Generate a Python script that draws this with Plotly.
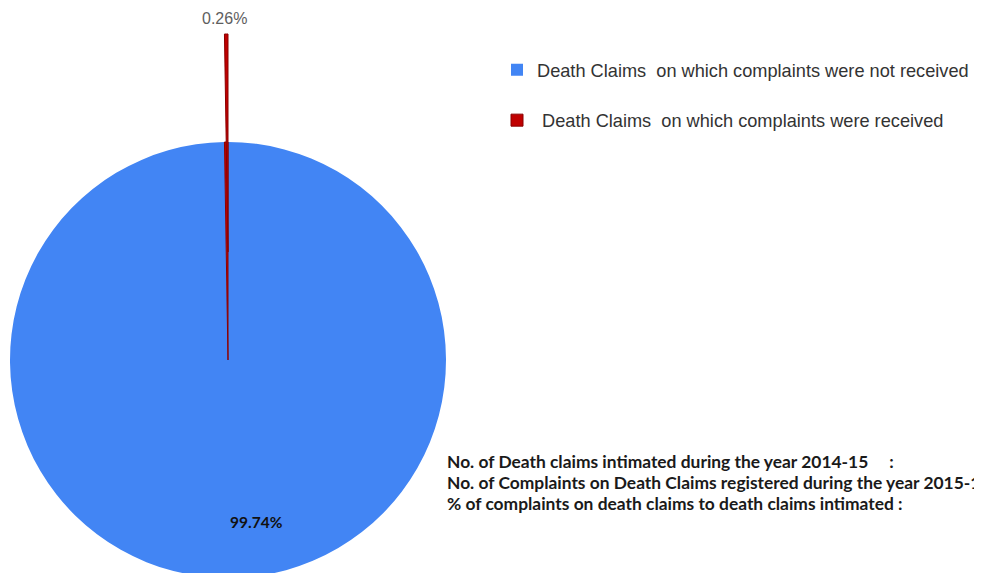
import plotly.graph_objects as go

# ---- data ----
labels = ["Death Claims\u00a0\u00a0on which complaints were not received",
          "\u00a0Death Claims\u00a0\u00a0on which complaints were received"]
values = [99.74, 0.26]
colors = ["#4285F4", "#C00000"]
info_lines = ["No. of Death claims intimated during the year 2014-15\u00a0\u00a0\u00a0\u00a0\u00a0:",
              "No. of Complaints on Death Claims registered during the year 2015-16",
              "% of complaints on death claims to death claims intimated :"]

# ---- layout geometry (figure px; page body adds an 8px offset) ----
W, H = 982, 573
cx = 220.0
r = 218.0
main_cy = 352.0
pulled_cy = 244.0

def dom(cy):
    return dict(x=[max(0, (cx - r) / W), (cx + r) / W],
                y=[max(0, 1 - (cy + r) / H), min(1, 1 - (cy - r) / H)])

total = sum(values)
pcts = ["{:.2f}%".format(v / total * 100) for v in values]

fig = go.Figure()
# main pie
fig.add_trace(go.Pie(
    labels=[l + "<br>\u00a0" for l in labels], values=values, sort=False,
    direction="clockwise", rotation=0,
    marker=dict(colors=colors, line=dict(color=["#3a78e0", "#8a0000"], width=[0, 1])),
    textinfo="none", domain=dom(main_cy), hoverinfo="none", showlegend=True))
# pulled-out small slice (same data; large slice transparent)
fig.add_trace(go.Pie(
    labels=[l + "<br>\u00a0" for l in labels], values=values, sort=False,
    direction="clockwise", rotation=0,
    marker=dict(colors=["rgba(0,0,0,0)", colors[1]],
                line=dict(color=["rgba(0,0,0,0)", "#8a0000"], width=[0, 1])),
    textinfo="none", domain=dom(pulled_cy), hoverinfo="none", showlegend=False))

# slice value labels
fig.add_annotation(text="<b>" + pcts[0] + "</b>", xref="paper", yref="paper",
                   x=248 / W, y=1 - 514 / H, xanchor="center", yanchor="middle",
                   showarrow=False,
                   font=dict(family="Lato, Open Sans, sans-serif", size=15.5, color="#111111"))
fig.add_annotation(text=pcts[1], xref="paper", yref="paper",
                   x=216 / W, y=1 - 10.5 / H, xanchor="center", yanchor="middle",
                   showarrow=False,
                   font=dict(family="Liberation Sans, Arial, sans-serif", size=16, color="#5e5e5e"))

ys = [453, 474, 495]
for t, yp in zip(info_lines, ys):
    fig.add_annotation(text="<b>" + t + "</b>", xref="paper", yref="paper",
                       x=437 / W, y=1 - yp / H, xanchor="left", yanchor="middle",
                       showarrow=False, align="left",
                       font=dict(family="Lato, Open Sans, sans-serif", size=17.4, color="#1a1a1a"))

fig.update_layout(
    width=W, height=H, margin=dict(l=0, r=0, t=0, b=0),
    paper_bgcolor="white", plot_bgcolor="white",
    legend=dict(x=489 / W, y=1 - 43.5 / H, xanchor="left", yanchor="top", valign="top",
                font=dict(family="Liberation Sans, Arial, sans-serif", size=18.2, color="#333333"),
                tracegroupgap=0, itemwidth=30),
)
fig.write_html("out.html")
